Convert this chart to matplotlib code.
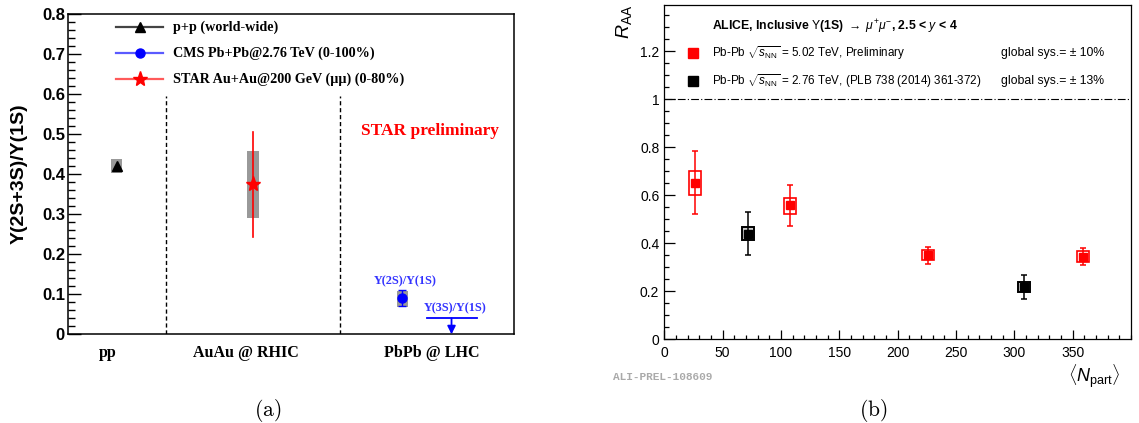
import matplotlib
matplotlib.use("Agg")
import matplotlib.pyplot as plt
from matplotlib.patches import Rectangle
from matplotlib.lines import Line2D
from matplotlib.ticker import MultipleLocator, FuncFormatter

plt.rcParams['mathtext.fontset'] = 'custom'
plt.rcParams['mathtext.rm'] = 'Liberation Sans'
plt.rcParams['mathtext.it'] = 'Liberation Sans:italic'
plt.rcParams['mathtext.bf'] = 'Liberation Sans:bold'

# ---------------- data: panel (a) ----------------
categories = ['pp', 'AuAu @ RHIC', 'PbPb @ LHC']
category_pos = [0.90, 4.00, 8.16]
separators = [2.21, 6.10]

pp_x = 1.10
pp_ratio = 0.420
pp_sys = [0.404, 0.437]

star_x = 4.15
star_ratio = 0.375
star_sys = [0.291, 0.458]
star_stat = [0.244, 0.506]

cms_x = 7.50
cms_2s = 0.090
cms_2s_sys = [0.069, 0.109]
cms_2s_stat = [0.070, 0.110]

cms_3s_x = 8.60
cms_3s_limit = 0.040

legend_a = ['p+p (world-wide)', 'CMS Pb+Pb@2.76 TeV (0-100%)',
            'STAR Au+Au@200 GeV (\u03bc\u03bc) (0-80%)']

# ---------------- data: panel (b) ----------------
npart_502 = [26, 108, 226, 359]
raa_502 = [0.653, 0.559, 0.350, 0.345]
stat_lo_502 = [0.523, 0.472, 0.315, 0.309]
stat_hi_502 = [0.784, 0.645, 0.384, 0.380]
sys_lo_502 = [0.603, 0.523, 0.329, 0.323]
sys_hi_502 = [0.700, 0.587, 0.372, 0.370]

npart_276 = [72, 308]
raa_276 = [0.440, 0.219]
stat_lo_276 = [0.350, 0.166]
stat_hi_276 = [0.530, 0.268]
sys_lo_276 = [0.413, 0.198]
sys_hi_276 = [0.467, 0.239]

W, H = 1139, 423
fig = plt.figure(figsize=(W / 100, H / 100), dpi=100)


def fx(px):
    return px / W


def fy(py):
    return 1 - py / H


SERIF = ['Liberation Serif', 'DejaVu Serif']
SANS = ['Liberation Sans', 'DejaVu Sans']

# ================= panel (a) =================
ax1 = fig.add_axes([fx(67.7), fy(334.3), fx(514) - fx(67.7), fy(14.3) - fy(334.3)])
ax1.set_xlim(0, 10)
ax1.set_ylim(0, 0.8)
for s in ax1.spines.values():
    s.set_linewidth(1.1)
ax1.yaxis.set_major_locator(MultipleLocator(0.1))
ax1.yaxis.set_minor_locator(MultipleLocator(0.02))
ax1.yaxis.set_major_formatter(FuncFormatter(lambda v, p: '%g' % round(v, 3)))
ax1.tick_params(axis='y', which='major', direction='in', length=9.4, width=1.0, pad=2,
                labelsize=12)
ax1.tick_params(axis='y', which='minor', direction='in', length=4.7, width=1.0)
for lab in ax1.get_yticklabels():
    lab.set_fontweight('bold')
    lab.set_family(SANS)
ax1.set_xticks(category_pos)
ax1.set_xticklabels(categories, fontfamily=SERIF, fontweight='bold', fontsize=11.5)
ax1.tick_params(axis='x', length=0, pad=8)

for xs in separators:
    ax1.plot([xs, xs], [0, 0.595], color='black', lw=1.0, ls=(0, (3, 2)))

# pp
ax1.add_patch(Rectangle((pp_x - 0.12, pp_sys[0]), 0.24, pp_sys[1] - pp_sys[0],
                        facecolor='#999999', edgecolor='none', zorder=2))
ax1.plot([pp_x], [pp_ratio], marker='^', color='black', ms=7.5, zorder=4)
# STAR
ax1.add_patch(Rectangle((star_x - 0.13, star_sys[0]), 0.26, star_sys[1] - star_sys[0],
                        facecolor='#999999', edgecolor='none', zorder=2))
ax1.plot([star_x, star_x], star_stat, color='red', lw=1.2, zorder=3)
ax1.plot([star_x], [star_ratio], marker='*', color='red', ms=11, zorder=4)
# CMS 2S
ax1.add_patch(Rectangle((cms_x - 0.115, cms_2s_sys[0]), 0.23, cms_2s_sys[1] - cms_2s_sys[0],
                        facecolor='#999999', edgecolor='none', zorder=2))
ax1.errorbar([cms_x], [cms_2s], yerr=[[cms_2s - cms_2s_stat[0]], [cms_2s_stat[1] - cms_2s]],
             fmt='o', color='blue', ms=6.5, capsize=3, elinewidth=1.0, capthick=1.0, zorder=4)
# CMS 3S upper limit
ax1.plot([cms_3s_x - 0.54, cms_3s_x + 0.56], [cms_3s_limit, cms_3s_limit], color='blue', lw=1.3)
ax1.annotate('', xy=(cms_3s_x, 0.0), xytext=(cms_3s_x, cms_3s_limit),
             arrowprops=dict(arrowstyle='-|>', color='blue', lw=1.3,
                             mutation_scale=12, shrinkA=0, shrinkB=0))
ax1.text(cms_x + 0.07, 0.132, '\u03a5(2S)/\u03a5(1S)', color='#3333ff', fontsize=8.8,
         fontfamily=SERIF, fontweight='bold', ha='center', va='center')
ax1.text(cms_3s_x + 0.08, 0.065, '\u03a5(3S)/\u03a5(1S)', color='#3333ff', fontsize=8.8,
         fontfamily=SERIF, fontweight='bold', ha='center', va='center')
ax1.text(8.12, 0.508, 'STAR preliminary', color='red', fontsize=12.5,
         fontfamily=SERIF, fontweight='bold', ha='center', va='center')

# legend (a)
leg_y = [27, 53, 79]
leg_line_col = ['#444444', '#5a5aff', '#ff5a5a']
leg_mark = ['^', 'o', '*']
leg_mcol = ['black', 'blue', 'red']
leg_ms = [7.5, 6.5, 11]
for yy, txt, lc, mk, mc, ms in zip(leg_y, legend_a, leg_line_col, leg_mark, leg_mcol, leg_ms):
    fig.add_artist(Line2D([fx(116), fx(163)], [fy(yy), fy(yy)], color=lc, lw=1.6))
    fig.add_artist(Line2D([fx(139.5)], [fy(yy)], marker=mk, color=mc, ms=ms, lw=0))
    fig.text(fx(173), fy(yy), txt, fontsize=10.2, fontfamily=SERIF, fontweight='bold',
             ha='left', va='center')

fig.text(fx(19.5), fy(173.5), '\u03a5(2S+3S)/\u03a5(1S)', rotation=90, fontsize=14,
         fontfamily=SANS, fontweight='bold', ha='center', va='center')
fig.text(fx(268), fy(410), r'$\mathrm{(a)}$', math_fontfamily='cm', fontsize=15.5,
         ha='center', va='center')

# ================= panel (b) =================
ax2 = fig.add_axes([fx(664.3), fy(339.3), fx(1131) - fx(664.3), fy(5) - fy(339.3)])
ax2.set_xlim(0, 400)
ax2.set_ylim(0, 1.393)
for s in ax2.spines.values():
    s.set_linewidth(0.9)
ax2.xaxis.set_major_locator(MultipleLocator(50))
ax2.xaxis.set_minor_locator(MultipleLocator(10))
ax2.yaxis.set_major_locator(MultipleLocator(0.2))
ax2.yaxis.set_minor_locator(MultipleLocator(0.05))
fmt = FuncFormatter(lambda v, p: '%g' % round(v, 3))
ax2.yaxis.set_major_formatter(fmt)
ax2.xaxis.set_major_formatter(fmt)
ax2.set_xticks([0, 50, 100, 150, 200, 250, 300, 350])
ax2.tick_params(axis='y', which='major', direction='in', length=7.7, width=0.9, pad=3.6,
                labelsize=10)
ax2.tick_params(axis='y', which='minor', direction='in', length=3.4, width=0.9)
ax2.tick_params(axis='x', which='major', direction='in', length=6.7, width=0.9, pad=5,
                labelsize=10)
ax2.tick_params(axis='x', which='minor', direction='in', length=3.1, width=0.9)
for lab in ax2.get_xticklabels() + ax2.get_yticklabels():
    lab.set_family(SANS)

ax2.axhline(1.0, color='black', lw=0.8, ls=(0, (7, 2, 1, 2)))

HALF = 5.2
for xv, yv, slo, shi, blo, bhi in zip(npart_502, raa_502, stat_lo_502, stat_hi_502,
                                      sys_lo_502, sys_hi_502):
    ax2.add_patch(Rectangle((xv - HALF, blo), 2 * HALF, bhi - blo, facecolor='none',
                            edgecolor='red', lw=1.2, zorder=3))
    ax2.errorbar([xv], [yv], yerr=[[yv - slo], [shi - yv]], fmt='s', color='red', ms=5.5,
                 capsize=2.5, elinewidth=1.1, capthick=1.1, zorder=4)
for xv, yv, slo, shi, blo, bhi in zip(npart_276, raa_276, stat_lo_276, stat_hi_276,
                                      sys_lo_276, sys_hi_276):
    ax2.add_patch(Rectangle((xv - HALF, blo), 2 * HALF, bhi - blo, facecolor='#cccccc',
                            edgecolor='black', lw=1.4, zorder=3))
    ax2.errorbar([xv], [yv], yerr=[[yv - slo], [shi - yv]], fmt='s', color='black', ms=5.5,
                 capsize=2.5, elinewidth=1.1, capthick=1.1, zorder=4)

TS = 8.8
TL = 8.4
fig.text(fx(711.7), fy(26.7),
         r'ALICE, Inclusive $\Upsilon$(1S) $\rightarrow$ $\mu^{+}\mu^{-}$, 2.5 < $\mathbf{\mathit{y}}$ < 4',
         fontsize=TS, fontfamily=SANS, fontweight='bold', ha='left', va='center')
fig.add_artist(Line2D([fx(692.7)], [fy(53.3)], marker='s', color='red', ms=7, lw=0))
fig.add_artist(Line2D([fx(692.7)], [fy(81)], marker='s', color='black', ms=7, lw=0))
fig.text(fx(711.7), fy(53.3), r'Pb-Pb $\sqrt{s_{\rm NN}}$ = 5.02 TeV, Preliminary',
         fontsize=TL, fontfamily=SANS, ha='left', va='center')
fig.text(fx(711.7), fy(81), r'Pb-Pb $\sqrt{s_{\rm NN}}$ = 2.76 TeV, (PLB 738 (2014) 361-372)',
         fontsize=TL, fontfamily=SANS, ha='left', va='center')
fig.text(fx(1001), fy(53.3), 'global sys.= \u00b1 10%', fontsize=TS, fontfamily=SANS,
         ha='left', va='center')
fig.text(fx(1001), fy(81), 'global sys.= \u00b1 13%', fontsize=TS, fontfamily=SANS,
         ha='left', va='center')

fig.text(fx(624.5), fy(5), r'$R_{\rm AA}$', rotation=90, fontsize=14, ha='center', va='top')
fig.text(fx(1120), fy(362), r'$\langle N_{\rm part}\rangle$', fontsize=13, ha='right', va='top')
fig.text(fx(613), fy(377), 'ALI-PREL-108609', fontsize=8, color='#aaaaaa',
         fontfamily=['Liberation Mono', 'DejaVu Sans Mono'], fontweight='bold',
         ha='left', va='center')
fig.text(fx(873), fy(410), r'$\mathrm{(b)}$', math_fontfamily='cm', fontsize=15.5,
         ha='center', va='center')

fig.savefig('out.png', dpi=100)
